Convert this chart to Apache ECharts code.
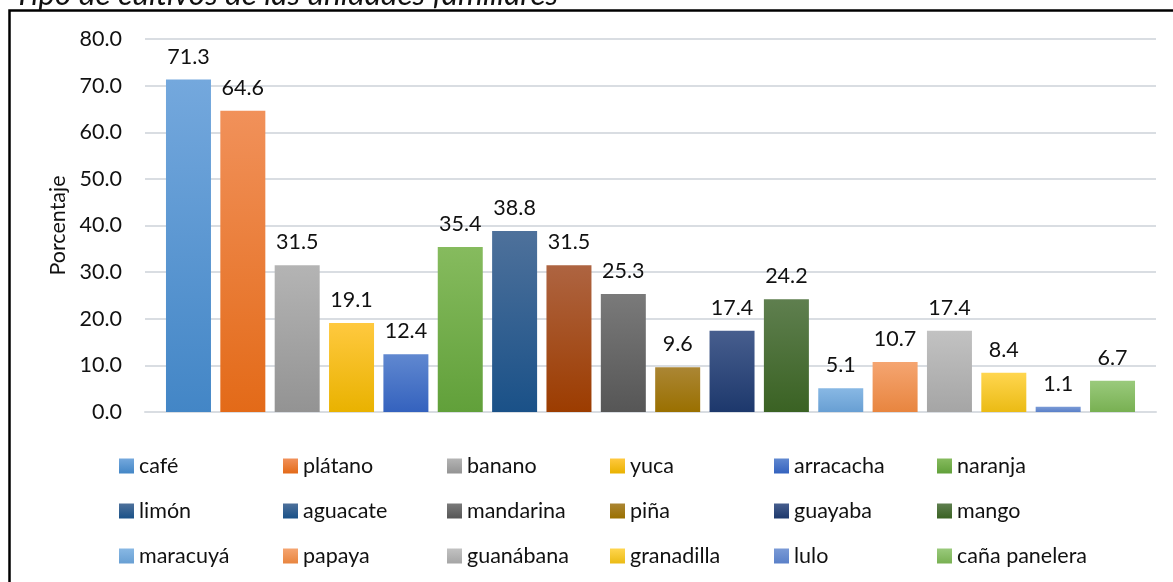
<!DOCTYPE html>
<html>
<head>
<meta charset="utf-8">
<script src="https://cdn.jsdelivr.net/npm/echarts@6/dist/echarts.min.js"></script>
<style>
html,body{margin:0;padding:0;background:#fff;}
#c{width:1173px;height:582px;}
</style>
</head>
<body>
<div id="c"></div>
<script>
// ---- data ----
const cultivos = ['café','plátano','banano','yuca','arracacha','naranja',
                  'limón','aguacate','mandarina','piña','guayaba','mango',
                  'maracuyá','papaya','guanábana','granadilla','lulo','caña panelera'];
const porcentajes = [71.3,64.6,31.5,19.1,12.4,35.4,
                     38.8,31.5,25.3,9.6,17.4,24.2,
                     5.1,10.7,17.4,8.4,1.1,6.7];
const yTicks = [0,10,20,30,40,50,60,70,80];
const titulo = 'Tipo de cultivos de las unidades familiares';
const ejeY = 'Porcentaje';

// ---- styles ----
const gradTop = ['#74A8DD','#F1915A','#B4B4B4','#FFC93F','#6088D0','#86BB5E',
                 '#4E719B','#AE6441','#7A7A7A','#AB8634','#475E8E','#5F7F4F',
                 '#88B8E4','#F5A571','#C2C2C2','#FFD64F','#7A9AD6','#9ACA7C'];
const gradBot = ['#4386C6','#E36A18','#939393','#E9B200','#3462BE','#61A03A',
                 '#1A5188','#9C3C00','#565656','#9A7000','#1D386C','#3A6223',
                 '#689FD3','#E8853F','#A5A5A5','#EBBB14','#5A80C8','#78B052'];
function grad(i){
  return new echarts.graphic.LinearGradient(0,0,0,1,[
    {offset:0,color:gradTop[i]},{offset:1,color:gradBot[i]}]);
}
const FONT = 'Lato';
const FS = 21.5;

const series = cultivos.map((n,i)=>({
  name:n,
  type:'bar',
  data:[porcentajes[i]],
  barGap:'20.8%',
  barCategoryGap:'4.15%',
  itemStyle:{color:grad(i)},
  label:{show:true,position:'top',distance:12,
    formatter:p=>p.value.toFixed(1),
    fontFamily:FONT,fontSize:FS,color:'#111'}
}));

const colX = [114,278,442,605,769,932];
const legends = colX.map((x,c)=>({
  orient:'vertical',
  left:x, top:450,
  itemWidth:15,itemHeight:15,itemGap:23,
  icon:'rect',
  selectedMode:false,
  textStyle:{fontFamily:FONT,fontSize:FS,color:'#111',lineHeight:22},
  data:[c,c+6,c+12].map(k=>{
    if(cultivos[k]==='aguacate'){
      return {name:cultivos[k],itemStyle:{color:new echarts.graphic.LinearGradient(0,0,0,1,[
        {offset:0,color:'#4E719B'},{offset:1,color:'#1A5188'}])}};
    }
    return {name:cultivos[k]};
  })
}));

const chart = echarts.init(document.getElementById('c'),null,{renderer:'canvas'});
chart.setOption({
  animation:false,
  backgroundColor:'#fff',
  grid:{left:145,right:17,top:39,bottom:170,containLabel:false},
  xAxis:{type:'category',data:[''],
    axisLine:{show:true,lineStyle:{color:'#D9DDE2',width:2}},
    axisTick:{show:false},axisLabel:{show:false}},
  yAxis:{type:'value',min:yTicks[0],max:yTicks[yTicks.length-1],interval:10,
    name:ejeY,nameLocation:'middle',nameGap:72,
    nameTextStyle:{fontFamily:FONT,fontSize:FS,color:'#111'},
    axisLine:{show:false},axisTick:{show:false},
    axisLabel:{fontFamily:FONT,fontSize:FS,color:'#111',margin:23,
      formatter:v=>v.toFixed(1)},
    splitLine:{lineStyle:{color:'#D9DDE2',width:2}}},
  legend:legends,
  series:series,
  graphic:[
    {type:'rect',z:-1,silent:true,
      shape:{x:9.5,y:10.5,width:1300,height:700},
      style:{fill:'none',stroke:'#000',lineWidth:2.5}},
    {type:'text',left:14,top:-21,silent:true,
      style:{text:titulo,fontFamily:FONT,fontStyle:'italic',fontSize:31.5,fill:'#111'}}
  ]
});
</script>
</body>
</html>
